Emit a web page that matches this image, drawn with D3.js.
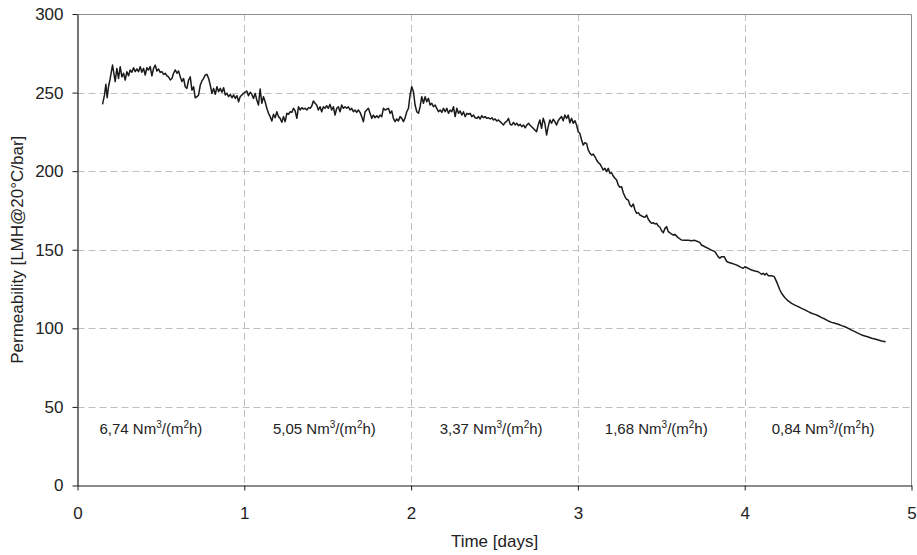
<!DOCTYPE html>
<html>
<head>
<meta charset="utf-8">
<script src="https://cdn.jsdelivr.net/npm/d3@7"></script>
<style>
  html, body { margin: 0; padding: 0; background: #fff; }
  svg { display: block; font-family: "Liberation Sans", Arial, sans-serif; }
</style>
</head>
<body>
<svg id="chart" width="917" height="555"></svg>
<script>
// Permeability log, time in days
const timeDays = [
  0.150, 0.162, 0.170, 0.178, 0.186, 0.196, 0.210, 0.218, 0.226,
  0.236, 0.246, 0.256, 0.266, 0.276, 0.286, 0.296, 0.306, 0.316, 0.326,
  0.336, 0.346, 0.356, 0.366, 0.376, 0.386, 0.396, 0.406, 0.416, 0.426,
  0.436, 0.446, 0.456, 0.466, 0.476, 0.486, 0.496, 0.506, 0.516, 0.526,
  0.536, 0.546, 0.556, 0.566, 0.576, 0.586, 0.596, 0.606, 0.616, 0.626,
  0.636, 0.646, 0.656, 0.666, 0.676, 0.686, 0.696, 0.706, 0.716, 0.726,
  0.736, 0.746, 0.756, 0.766, 0.776, 0.786, 0.796, 0.806, 0.816, 0.826,
  0.836, 0.846, 0.856, 0.866, 0.876, 0.886, 0.896, 0.906, 0.916, 0.926,
  0.936, 0.946, 0.956, 0.966,
  0.975, 0.995, 1.015, 1.025, 1.035, 1.045, 1.055, 1.065, 1.075, 1.085,
  1.095, 1.105, 1.115, 1.125, 1.135, 1.145, 1.155, 1.165, 1.175, 1.185,
  1.195, 1.205, 1.215, 1.225, 1.235, 1.245, 1.255, 1.265, 1.275, 1.285,
  1.295, 1.305, 1.315, 1.325, 1.335, 1.345, 1.355, 1.365, 1.375, 1.385,
  1.395, 1.405, 1.414, 1.424, 1.434, 1.444, 1.454, 1.464, 1.474, 1.484,
  1.494, 1.504, 1.514, 1.524, 1.534, 1.544, 1.554, 1.564, 1.574, 1.584,
  1.594, 1.604, 1.614, 1.624, 1.634, 1.644, 1.654, 1.664, 1.674, 1.684,
  1.694, 1.704, 1.714, 1.724, 1.734, 1.744, 1.754, 1.764, 1.774, 1.784,
  1.794, 1.804, 1.814, 1.824, 1.834,
  1.844, 1.864, 1.874, 1.884, 1.894, 1.904, 1.914, 1.924, 1.934, 1.944,
  1.954, 1.964, 1.974, 1.984, 1.994, 2.004, 2.014, 2.024, 2.034, 2.044,
  2.054, 2.064, 2.074, 2.084, 2.094, 2.104, 2.114, 2.124, 2.134, 2.144,
  2.154, 2.164, 2.174, 2.184, 2.194, 2.204, 2.214, 2.224, 2.234, 2.244,
  2.254, 2.264, 2.274, 2.284, 2.294, 2.304, 2.314, 2.324, 2.334, 2.344,
  2.354, 2.364, 2.374, 2.384, 2.394, 2.404, 2.414, 2.424, 2.434, 2.444,
  2.454, 2.464, 2.474, 2.484, 2.494, 2.504, 2.514, 2.524, 2.534, 2.544,
  2.554, 2.564, 2.574, 2.584, 2.594, 2.604, 2.614, 2.624, 2.634, 2.644,
  2.654, 2.664, 2.674, 2.684, 2.694, 2.704,
  2.712, 2.732, 2.742, 2.752, 2.762, 2.772, 2.782, 2.792, 2.802, 2.812,
  2.822, 2.832, 2.842, 2.852, 2.862, 2.872, 2.882, 2.892, 2.902, 2.912,
  2.922, 2.932, 2.942, 2.952, 2.962, 2.972, 2.982, 2.992, 3.002, 3.012,
  3.022, 3.032, 3.042, 3.052, 3.062, 3.072, 3.082, 3.092, 3.102, 3.112,
  3.122, 3.132, 3.142, 3.152, 3.162, 3.172, 3.182, 3.192, 3.202, 3.212,
  3.222, 3.232, 3.242, 3.252, 3.262, 3.272, 3.282, 3.292, 3.302, 3.312,
  3.322, 3.332, 3.342, 3.352, 3.362, 3.372, 3.382, 3.392, 3.402, 3.412,
  3.422, 3.432, 3.442, 3.452, 3.462, 3.472, 3.482, 3.492, 3.502, 3.512,
  3.522, 3.532, 3.542, 3.552, 3.562, 3.572,
  3.581, 3.601, 3.621, 3.641, 3.661, 3.681, 3.701, 3.721, 3.731, 3.741,
  3.761, 3.781, 3.801, 3.821, 3.841, 3.851, 3.861, 3.877, 3.891, 3.901,
  3.921, 3.941, 3.961, 3.981, 3.991, 4.001, 4.021, 4.041, 4.061, 4.081,
  4.101, 4.111, 4.121, 4.131, 4.141, 4.161, 4.177, 4.191, 4.201, 4.211,
  4.221, 4.241, 4.261, 4.281, 4.301, 4.321, 4.341, 4.361, 4.381, 4.401,
  4.421, 4.441, 4.461, 4.481, 4.501, 4.521, 4.541, 4.561, 4.581, 4.601,
  4.621, 4.641, 4.661, 4.681, 4.701, 4.721, 4.741, 4.761, 4.781, 4.801,
  4.821, 4.845
];

// Permeability [LMH@20°C/bar]
const permeability = [
  242.5, 248.5, 255.3, 246.7, 253.7, 259.0, 267.5, 262.3, 257.0,
  265.4, 259.0, 266.5, 260.0, 262.3, 258.0, 263.3, 260.7, 264.4, 262.9,
  265.8, 263.3, 265.0, 263.3, 266.5, 262.9, 265.4, 261.2, 265.8, 264.4,
  266.5, 260.7, 265.4, 267.5, 263.7, 265.0, 262.9, 263.3, 261.6, 262.3,
  260.7, 260.0, 258.0, 259.0, 262.3, 264.4, 262.3, 263.7, 260.0, 257.0,
  259.0, 253.7, 252.7, 258.0, 260.0, 251.6, 253.7, 246.7, 247.4, 248.5,
  254.8, 257.4, 259.0, 261.2, 261.6, 259.0, 254.8, 249.5, 252.7, 248.9,
  253.7, 250.6, 252.7, 250.2, 253.1, 248.5, 249.5, 247.4, 248.9, 246.7,
  248.5, 246.3, 248.0, 244.2,
  247.4, 249.5, 251.0, 248.0, 250.2, 248.9, 246.3, 249.5, 245.3, 242.1,
  252.3, 243.2, 247.4, 244.2, 240.0, 236.8, 234.7, 231.9, 236.2, 234.0,
  237.8, 234.7, 233.6, 231.1, 234.7, 231.5, 236.8, 236.2, 237.8, 237.4,
  240.0, 238.3, 233.6, 241.0, 238.9, 240.4, 239.5, 240.0, 238.9, 240.4,
  240.0, 241.6, 244.6, 243.2, 242.1, 238.9, 241.0, 237.8, 241.0, 240.0,
  241.6, 240.0, 242.5, 238.9, 241.0, 235.7, 240.0, 241.0, 237.8, 242.1,
  240.0, 241.0, 240.0, 241.0, 238.9, 240.0, 237.8, 238.9, 237.4, 238.9,
  237.4, 234.7, 231.5, 237.8, 238.9, 240.0, 236.8, 233.6, 235.7, 234.0,
  235.3, 234.0, 235.7, 234.7, 240.0,
  238.9, 240.0, 236.8, 238.3, 233.6, 231.5, 233.2, 231.9, 234.7, 233.6,
  231.5, 234.0, 237.8, 240.0, 248.5, 253.7, 250.6, 242.1, 237.8, 236.8,
  241.0, 247.4, 243.2, 247.4, 244.2, 246.3, 242.1, 243.2, 241.0, 242.1,
  240.0, 237.8, 238.9, 237.4, 240.0, 237.8, 240.0, 236.8, 238.9, 237.8,
  241.0, 234.7, 240.0, 236.8, 238.3, 235.7, 237.8, 234.7, 236.8, 236.2,
  236.8, 234.7, 235.7, 234.0, 233.6, 234.7, 233.2, 235.3, 234.0, 234.7,
  233.6, 234.0, 233.2, 234.0, 232.6, 233.2, 231.9, 232.6, 231.5, 230.5,
  229.4, 231.1, 231.9, 233.6, 229.8, 229.4, 231.1, 229.4, 230.5, 228.9,
  229.8, 228.3, 229.4, 227.6, 229.4, 230.5,
  229.4, 227.3, 226.2, 225.1, 229.4, 232.6, 227.3, 233.6, 230.5, 223.0,
  228.3, 232.6, 230.5, 233.0, 231.5, 229.4, 232.1, 233.6, 234.7, 232.1,
  235.7, 233.6, 235.7, 230.8, 233.6, 230.5, 232.1, 229.4, 225.1, 223.9,
  219.8, 216.6, 218.1, 217.7, 213.5, 211.4, 210.3, 210.9, 209.2, 207.1,
  205.4, 204.6, 202.8, 200.7, 201.8, 199.7, 201.8, 198.6, 199.0, 196.9,
  195.5, 194.4, 191.2, 189.7, 190.1, 186.3, 183.8, 182.1, 181.6, 178.5,
  177.4, 179.1, 175.3, 173.2, 173.6, 172.1, 171.5, 171.0, 170.6, 172.1,
  169.4, 167.9, 166.8, 167.2, 166.4, 166.8, 165.1, 164.3, 162.1, 160.8,
  163.6, 164.7, 161.5, 160.8, 160.0, 159.4,
  159.8, 157.7, 156.2, 156.0, 156.0, 155.8, 156.0, 155.1, 154.7, 153.0,
  151.9, 150.9, 149.8, 148.8, 145.6, 144.6, 145.6, 145.6, 142.8, 142.0,
  141.4, 140.7, 139.8, 138.6, 138.2, 139.2, 138.2, 137.1, 136.5, 136.0,
  134.4, 135.0, 133.9, 135.0, 133.5, 133.5, 132.9, 129.7, 127.1, 124.4,
  122.3, 119.5, 117.4, 115.9, 114.8, 113.8, 112.7, 111.7, 110.6, 109.6,
  108.9, 108.0, 106.8, 105.9, 104.7, 103.8, 103.2, 102.6, 101.7, 101.0,
  100.0, 98.9, 97.9, 96.8, 95.8, 95.1, 94.5, 93.7, 93.2, 92.6,
  91.9, 91.5
];

// Specific aeration demand per phase
const aerationRates = ["6,74", "5,05", "3,37", "1,68", "0,84"];

const xTicks = [0, 1, 2, 3, 4, 5];
const yTicks = [0, 50, 100, 150, 200, 250, 300];

// ---- layout ----
const svg = d3.select("#chart");
const plot = { left: 77.5, right: 911.5, top: 14, bottom: 485.5 };

const x = d3.scaleLinear().domain([0, 5]).range([plot.left, plot.right]);
const y = d3.scaleLinear().domain([0, 300]).range([plot.bottom, plot.top]);

// dashed grid
const grid = svg.append("g").attr("stroke", "#bfbfbf").attr("stroke-width", 1)
  .attr("stroke-dasharray", "7,4").attr("fill", "none");
grid.selectAll("line.h").data(yTicks.filter(v => v > 0 && v < 300)).join("line")
  .attr("class", "h")
  .attr("x1", plot.left).attr("x2", plot.right)
  .attr("y1", d => Math.round(y(d)) + 0.5).attr("y2", d => Math.round(y(d)) + 0.5);
grid.selectAll("line.v").data(xTicks.filter(v => v > 0 && v < 5)).join("line")
  .attr("class", "v")
  .attr("y1", plot.top).attr("y2", plot.bottom)
  .attr("x1", d => Math.round(x(d)) + 0.5).attr("x2", d => Math.round(x(d)) + 0.5);

// frame: top and right edges in grey
svg.append("path")
  .attr("d", `M${plot.left},${plot.top + 0.5}H${plot.right}V${plot.bottom}`)
  .attr("fill", "none").attr("stroke", "#8c8c8c").attr("stroke-width", 1);

// axes
const yAxis = d3.axisLeft(y).tickValues(yTicks).tickSize(5).tickSizeOuter(0).tickPadding(9)
  .tickFormat(d3.format("d"));
const gy = svg.append("g").attr("transform", `translate(${plot.left},0)`).call(yAxis);

const xAxis = d3.axisBottom(x).tickValues(xTicks).tickSize(5).tickSizeOuter(0).tickPadding(16)
  .tickFormat(d3.format("d"));
const gx = svg.append("g").attr("transform", `translate(0,${plot.bottom})`).call(xAxis);

[gx, gy].forEach(g => {
  g.select(".domain").attr("stroke", "#1a1a1a").attr("stroke-width", 1.2);
  g.selectAll(".tick line").attr("stroke", "#1a1a1a");
  g.selectAll(".tick text").attr("fill", "#222").style("font-size", "17px")
    .style("font-family", "'Liberation Sans', Arial, sans-serif");
});

// permeability trace
const series = timeDays.map((t, i) => ({ t, v: permeability[i] }));
svg.append("path")
  .datum(series)
  .attr("fill", "none")
  .attr("stroke", "#1a1a1a")
  .attr("stroke-width", 1.5)
  .attr("stroke-linejoin", "round")
  .attr("d", d3.line().x(d => x(d.t)).y(d => y(d.v)));

// aeration rate labels, one per day
const labelDays = [0.44, 1.48, 2.48, 3.47, 4.47];
const labels = svg.append("g").attr("fill", "#222").style("font-size", "15px")
  .attr("text-anchor", "middle");
aerationRates.forEach((rate, i) => {
  const t = labels.append("text").attr("x", x(labelDays[i])).attr("y", y(33));
  t.append("tspan").text(rate + " Nm");
  t.append("tspan").attr("dy", -6).style("font-size", "10px").text("3");
  t.append("tspan").attr("dy", 6).text("/(m");
  t.append("tspan").attr("dy", -6).style("font-size", "10px").text("2");
  t.append("tspan").attr("dy", 6).text("h)");
});

// axis titles
svg.append("text")
  .attr("x", (plot.left + plot.right) / 2).attr("y", 547)
  .attr("text-anchor", "middle").attr("fill", "#222").style("font-size", "17px")
  .text("Time [days]");

svg.append("text")
  .attr("transform", `translate(23,${(plot.top + plot.bottom) / 2}) rotate(-90)`)
  .attr("text-anchor", "middle").attr("fill", "#222").style("font-size", "17px")
  .text("Permeability [LMH@20°C/bar]");
</script>
</body>
</html>
